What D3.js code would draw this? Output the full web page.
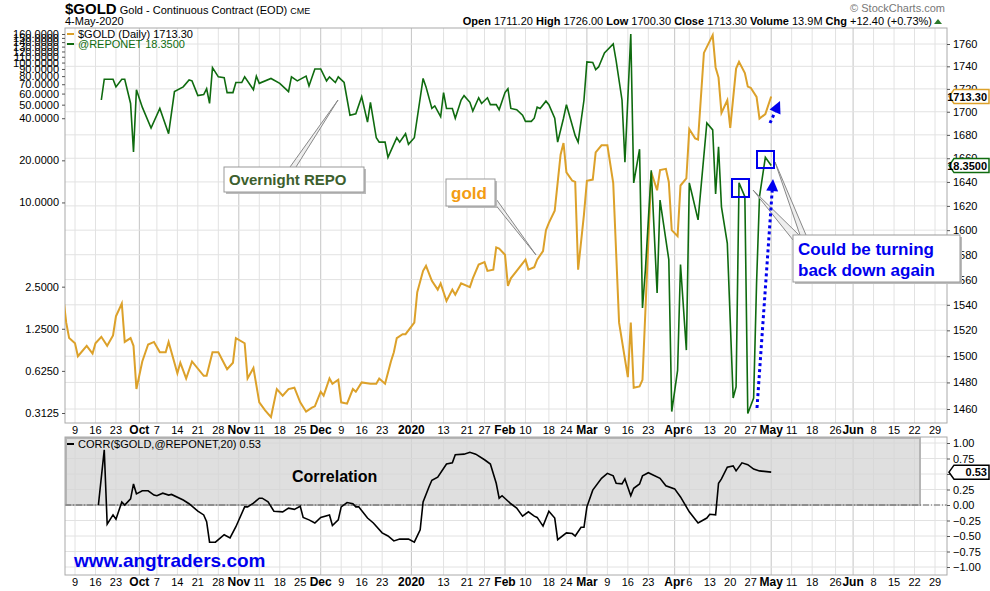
<!DOCTYPE html>
<html>
<head>
<meta charset="utf-8">
<script src="https://cdn.jsdelivr.net/npm/d3@7"></script>
<style>
  body { margin: 0; background: #fff; }
  text { font-family: "Liberation Sans", Arial, sans-serif; }
</style>
</head>
<body>
<div id="chart"></div>
<script>
// ---- data ----
const goldData = [
  ["2019-09-05",1546],["2019-09-06",1526],["2019-09-07",1514],["2019-09-09",1510],["2019-09-10",1500],
  ["2019-09-13",1508],["2019-09-15",1502],["2019-09-16",1510],["2019-09-18",1515],["2019-09-20",1508],
  ["2019-09-22",1516],["2019-09-23",1531],["2019-09-25",1541],["2019-09-26",1511],["2019-09-28",1514],
  ["2019-09-29",1508],["2019-09-30",1475],["2019-10-02",1496],["2019-10-04",1509],["2019-10-06",1511],
  ["2019-10-08",1503],["2019-10-10",1503],["2019-10-11",1511],["2019-10-14",1487],["2019-10-15",1495],
  ["2019-10-17",1483],["2019-10-19",1496],["2019-10-23",1485],["2019-10-24",1485],["2019-10-26",1503],
  ["2019-10-28",1503],["2019-10-31",1490],["2019-11-02",1495],["2019-11-03",1514],["2019-11-06",1510],
  ["2019-11-07",1483],["2019-11-09",1491],["2019-11-11",1465],["2019-11-13",1459],["2019-11-15",1454],
  ["2019-11-17",1475],["2019-11-19",1470],["2019-11-21",1475],["2019-11-23",1476],["2019-11-25",1465],
  ["2019-11-27",1458],["2019-11-29",1461],["2019-11-30",1462],["2019-12-02",1473],["2019-12-03",1470],
  ["2019-12-05",1483],["2019-12-06",1479],["2019-12-08",1482],["2019-12-09",1465],["2019-12-11",1464],
  ["2019-12-13",1475],["2019-12-14",1473],["2019-12-16",1480],["2019-12-19",1479],["2019-12-21",1479],
  ["2019-12-22",1483],["2019-12-24",1479],["2019-12-26",1496],["2019-12-27",1503],["2019-12-28",1514],
  ["2019-12-30",1517],["2019-12-31",1517],["2020-01-03",1526],["2020-01-04",1550],["2020-01-06",1567],
  ["2020-01-07",1571],["2020-01-09",1559],["2020-01-11",1552],["2020-01-12",1557],["2020-01-14",1543],
  ["2020-01-16",1552],["2020-01-17",1548],["2020-01-19",1557],["2020-01-22",1554],["2020-01-23",1561],
  ["2020-01-25",1572],["2020-01-27",1574],["2020-01-28",1567],["2020-01-30",1568],["2020-01-31",1586],
  ["2020-02-01",1585],["2020-02-03",1580],["2020-02-04",1555],["2020-02-05",1561],["2020-02-07",1567],
  ["2020-02-08",1570],["2020-02-10",1576],["2020-02-11",1568],["2020-02-13",1570],["2020-02-14",1576],
  ["2020-02-16",1583],["2020-02-17",1600],["2020-02-18",1606],["2020-02-20",1616],["2020-02-22",1663],
  ["2020-02-23",1673],["2020-02-24",1648],["2020-02-26",1641],["2020-02-27",1640],["2020-02-28",1568],
  ["2020-03-01",1613],["2020-03-02",1641],["2020-03-04",1642],["2020-03-05",1665],["2020-03-07",1671],
  ["2020-03-09",1671],["2020-03-11",1639],["2020-03-13",1526],["2020-03-16",1484],["2020-03-17",1526],
  ["2020-03-18",1476],["2020-03-20",1477],["2020-03-21",1482],["2020-03-24",1648],["2020-03-26",1633],
  ["2020-03-27",1650],["2020-03-29",1651],["2020-03-30",1640],["2020-03-31",1600],["2020-04-02",1595],
  ["2020-04-03",1637],["2020-04-05",1643],["2020-04-06",1685],["2020-04-08",1677],["2020-04-09",1676],
  ["2020-04-11",1752],["2020-04-14",1768],["2020-04-15",1739],["2020-04-16",1730],["2020-04-17",1699],
  ["2020-04-19",1710],["2020-04-20",1686],["2020-04-22",1738],["2020-04-23",1744],["2020-04-25",1734],
  ["2020-04-26",1722],["2020-04-27",1721],["2020-04-29",1713],["2020-04-30",1694],["2020-05-02",1698],
  ["2020-05-04",1713.3]
];

const repoData = [
  ["2019-09-18",54],["2019-09-19",76],["2019-09-22",76],["2019-09-23",67],["2019-09-25",76],
  ["2019-09-26",76],["2019-09-28",51],["2019-09-29",23],["2019-09-30",64],["2019-10-02",48],
  ["2019-10-05",34],["2019-10-08",47],["2019-10-11",31],["2019-10-13",62],["2019-10-16",67],
  ["2019-10-18",75],["2019-10-19",74],["2019-10-21",58],["2019-10-23",59],["2019-10-24",65],
  ["2019-10-25",51],["2019-10-26",92],["2019-10-28",79],["2019-10-30",78],["2019-10-31",61],
  ["2019-11-02",61],["2019-11-03",72],["2019-11-05",72],["2019-11-06",79],["2019-11-09",64],
  ["2019-11-10",80],["2019-11-11",71],["2019-11-15",77],["2019-11-18",71],["2019-11-21",62],
  ["2019-11-22",79],["2019-11-24",74],["2019-11-27",80],["2019-11-28",68],["2019-11-30",90],
  ["2019-12-02",90],["2019-12-04",74],["2019-12-05",79],["2019-12-07",72],["2019-12-08",79],
  ["2019-12-10",72],["2019-12-12",42],["2019-12-14",43],["2019-12-16",57],["2019-12-18",37.5],
  ["2019-12-19",52],["2019-12-21",29],["2019-12-22",27],["2019-12-24",27],["2019-12-25",21],
  ["2019-12-28",29],["2019-12-29",27],["2019-12-31",31],["2020-01-01",26],["2020-01-03",29],
  ["2020-01-06",77],["2020-01-07",67],["2020-01-09",47],["2020-01-10",49],["2020-01-12",41],
  ["2020-01-13",61],["2020-01-14",47],["2020-01-16",47],["2020-01-17",40],["2020-01-19",54],
  ["2020-01-20",58],["2020-01-22",52],["2020-01-23",45],["2020-01-25",56],["2020-01-26",51],
  ["2020-01-28",56],["2020-01-29",50],["2020-01-31",50],["2020-02-01",46],["2020-02-03",61],
  ["2020-02-04",65],["2020-02-05",47],["2020-02-07",46],["2020-02-09",42],["2020-02-10",38],
  ["2020-02-12",38],["2020-02-13",40],["2020-02-14",48],["2020-02-15",47],["2020-02-17",53],
  ["2020-02-18",50],["2020-02-20",40],["2020-02-21",27],["2020-02-23",40],["2020-02-24",50],
  ["2020-02-27",30],["2020-02-28",27],["2020-03-01",54],["2020-03-02",101],["2020-03-04",100],
  ["2020-03-05",89],["2020-03-06",93],["2020-03-08",117],["2020-03-11",136],["2020-03-12",103],
  ["2020-03-14",54],["2020-03-15",19.4],["2020-03-17",160],["2020-03-18",13.8],["2020-03-20",24],
  ["2020-03-21",1.76],["2020-03-22",3.3],["2020-03-24",17],["2020-03-26",2.25],["2020-03-27",10.4],
  ["2020-03-29",5.4],["2020-03-30",3.9],["2020-03-31",0.32],["2020-04-02",0.63],["2020-04-03",3.6],
  ["2020-04-05",0.88],["2020-04-06",13.8],["2020-04-07",11.3],["2020-04-09",7.5],["2020-04-12",37],
  ["2020-04-14",33],["2020-04-15",11.5],["2020-04-16",25],["2020-04-17",9.3],["2020-04-19",5.1],
  ["2020-04-21",0.4],["2020-04-22",0.48],["2020-04-23",13.8],["2020-04-25",11],["2020-04-26",0.31],
  ["2020-04-28",0.4],["2020-04-29",2.66],["2020-04-30",11],["2020-05-02",21],["2020-05-04",18.35]
];

const corrData = [
  ["2019-09-17",0],["2019-09-19",0.89],["2019-09-20",-0.31],["2019-09-22",-0.16],["2019-09-23",-0.23],
  ["2019-09-25",0.05],["2019-09-26",0],["2019-09-28",0.1],["2019-09-29",0.34],["2019-09-30",0.18],
  ["2019-10-02",0.23],["2019-10-04",0.23],["2019-10-06",0.16],["2019-10-07",0.15],["2019-10-09",0.19],
  ["2019-10-11",0.16],["2019-10-12",0.17],["2019-10-16",0.08],["2019-10-18",0.02],["2019-10-20",-0.06],
  ["2019-10-21",-0.1],["2019-10-23",-0.16],["2019-10-24",-0.27],["2019-10-25",-0.6],["2019-10-27",-0.6],
  ["2019-10-30",-0.48],["2019-11-01",-0.53],["2019-11-03",-0.35],["2019-11-06",-0.03],["2019-11-07",-0.03],
  ["2019-11-09",0.03],["2019-11-11",0.11],["2019-11-12",0.11],["2019-11-14",0.05],["2019-11-16",-0.1],
  ["2019-11-19",-0.11],["2019-11-21",-0.05],["2019-11-23",-0.07],["2019-11-25",-0.02],["2019-11-26",-0.2],
  ["2019-11-28",-0.24],["2019-11-30",-0.29],["2019-12-02",-0.2],["2019-12-05",-0.16],["2019-12-06",-0.33],
  ["2019-12-08",-0.24],["2019-12-09",-0.03],["2019-12-11",0.04],["2019-12-13",0.02],["2019-12-14",-0.03],
  ["2019-12-15",-0.03],["2019-12-18",-0.21],["2019-12-20",-0.29],["2019-12-23",-0.45],["2019-12-25",-0.5],
  ["2019-12-27",-0.58],["2019-12-29",-0.55],["2020-01-01",-0.55],["2020-01-03",-0.6],["2020-01-05",-0.4],
  ["2020-01-06",0.05],["2020-01-08",0.29],["2020-01-09",0.4],["2020-01-11",0.45],["2020-01-14",0.66],
  ["2020-01-16",0.68],["2020-01-17",0.81],["2020-01-20",0.82],["2020-01-22",0.85],["2020-01-24",0.82],
  ["2020-01-27",0.73],["2020-01-29",0.66],["2020-01-31",0.35],["2020-02-01",0.11],["2020-02-02",0.15],
  ["2020-02-05",0.02],["2020-02-07",-0.05],["2020-02-09",-0.18],["2020-02-11",-0.11],["2020-02-13",-0.18],
  ["2020-02-14",-0.2],["2020-02-16",-0.34],["2020-02-18",-0.1],["2020-02-20",-0.21],["2020-02-21",-0.56],
  ["2020-02-24",-0.45],["2020-02-26",-0.46],["2020-02-27",-0.5],["2020-02-29",-0.36],["2020-03-01",-0.36],
  ["2020-03-02",-0.03],["2020-03-04",0.24],["2020-03-07",0.43],["2020-03-09",0.51],["2020-03-11",0.47],
  ["2020-03-12",0.35],["2020-03-14",0.34],["2020-03-15",0.42],["2020-03-17",0.15],["2020-03-18",0.27],
  ["2020-03-20",0.34],["2020-03-21",0.47],["2020-03-23",0.52],["2020-03-27",0.43],["2020-03-29",0.31],
  ["2020-04-01",0.26],["2020-04-03",0.13],["2020-04-06",-0.11],["2020-04-09",-0.29],["2020-04-12",-0.21],
  ["2020-04-13",-0.15],["2020-04-15",-0.16],["2020-04-16",0.35],["2020-04-17",0.42],["2020-04-19",0.61],
  ["2020-04-21",0.63],["2020-04-22",0.55],["2020-04-24",0.68],["2020-04-26",0.65],["2020-04-28",0.58],
  ["2020-04-30",0.55],["2020-05-04",0.53]
];

const dateTicks = [
  ["2019-09-09","9"],["2019-09-16","16"],["2019-09-23","23"],["2019-10-01","Oct"],["2019-10-07","7"],
  ["2019-10-14","14"],["2019-10-21","21"],["2019-10-28","28"],["2019-11-04","Nov"],["2019-11-11","11"],
  ["2019-11-18","18"],["2019-11-25","25"],["2019-12-02","Dec"],["2019-12-09","9"],["2019-12-16","16"],
  ["2019-12-23","23"],["2020-01-02","2020"],["2020-01-13","13"],["2020-01-21","21"],["2020-01-27","27"],
  ["2020-02-03","Feb"],["2020-02-10","10"],["2020-02-18","18"],["2020-02-24","24"],["2020-03-02","Mar"],
  ["2020-03-09","9"],["2020-03-16","16"],["2020-03-23","23"],["2020-04-01","Apr"],["2020-04-06","6"],
  ["2020-04-13","13"],["2020-04-20","20"],["2020-04-27","27"],["2020-05-04","May"],["2020-05-11","11"],
  ["2020-05-18","18"],["2020-05-26","26"],["2020-06-01","Jun"],["2020-06-08","8"],["2020-06-15","15"],
  ["2020-06-22","22"],["2020-06-29","29"]
];
const goldTicks = d3.range(1460, 1761, 20);
const repoTicks = [0.3125, 0.625, 1.25, 2.5, 10, 20, 40, 50, 60, 70, 80, 90, 100, 110, 120, 130, 140, 150, 160];
const corrTicks = [1, 0.75, 0.5, 0.25, 0, -0.25, -0.5, -0.75, -1];

// ---- layout ----
const W = 990, H = 591;
const L = 65, R = 947;
const top1 = 28, bot1 = 423, top2 = 437, bot2 = 575;
const parse = d3.timeParse("%Y-%m-%d");

const x = d3.scaleTime().domain([parse("2019-09-09"), parse("2020-06-29")]).range([75, 935]);
const yGold = d3.scaleLog().domain([1460, 1760]).range([409, 44]);
const yRepo = d3.scaleLog().domain([0.3125, 160]).range([413, 34]);
const yCorr = d3.scaleLinear().domain([-1, 1]).range([567, 443]);

const svg = d3.select("#chart").append("svg").attr("width", W).attr("height", H);

svg.append("defs").append("clipPath").attr("id", "c1")
  .append("rect").attr("x", L).attr("y", top1).attr("width", R - L).attr("height", bot1 - top1);

// ---- header ----
const hdr = svg.append("text").attr("x", 65).attr("y", 14).attr("font-size", 11);
hdr.append("tspan").attr("font-weight", "bold").attr("font-size", 15).text("$GOLD");
hdr.append("tspan").text(" Gold - Continuous Contract (EOD) ");
hdr.append("tspan").attr("font-size", 9).text("CME");
svg.append("text").attr("x", 65).attr("y", 25).attr("font-size", 11).text("4-May-2020");
svg.append("text").attr("x", 945).attr("y", 12).attr("text-anchor", "end").attr("font-size", 11)
  .attr("fill", "#777").text("© StockCharts.com");
const stats = svg.append("text").attr("x", 932).attr("y", 25).attr("text-anchor", "end").attr("font-size", 11);
[["Open", "1711.20"], ["High", "1726.00"], ["Low", "1700.30"], ["Close", "1713.30"], ["Volume", "13.9M"], ["Chg", "+12.40 (+0.73%)"]]
  .forEach(([k, v], i) => {
    stats.append("tspan").attr("font-weight", "bold").text((i ? "  " : "") + k + " ");
    stats.append("tspan").text(v);
  });
svg.append("path").attr("d", "M934,24 L938,19 L942,24 Z").attr("fill", "#2a7a2a");

// ---- grids ----
function vgrid(y0, y1) {
  svg.append("g").selectAll("line").data(dateTicks).join("line")
    .attr("x1", d => x(parse(d[0]))).attr("x2", d => x(parse(d[0])))
    .attr("y1", y0).attr("y2", y1)
    .attr("stroke", d => isNaN(+d[1]) || d[1] === "2020" ? "#c4c4c4" : "#e2e2e2");
}
vgrid(top1, bot1);
vgrid(top2, bot2);
svg.append("g").selectAll("line").data(goldTicks).join("line")
  .attr("x1", L).attr("x2", R).attr("y1", d => yGold(d)).attr("y2", d => yGold(d)).attr("stroke", "#e2e2e2");
svg.append("g").selectAll("line").data(corrTicks).join("line")
  .attr("x1", L).attr("x2", R).attr("y1", d => yCorr(d)).attr("y2", d => yCorr(d)).attr("stroke", "#e2e2e2");

// correlation shaded band
svg.append("rect").attr("x", L + 1).attr("y", top2 + 1).attr("width", 920 - L - 1).attr("height", yCorr(0) - top2 - 1)
  .attr("fill", "#d4d4d4").attr("fill-opacity", 0.75).attr("stroke", "#b5b5b5").attr("stroke-width", 2);
svg.append("line").attr("x1", L).attr("x2", R).attr("y1", yCorr(0)).attr("y2", yCorr(0))
  .attr("stroke", "#666").attr("stroke-dasharray", "6,2,1,2");

// frames
svg.append("rect").attr("x", L).attr("y", top1).attr("width", R - L).attr("height", bot1 - top1)
  .attr("fill", "none").attr("stroke", "#aaa");
svg.append("rect").attr("x", L).attr("y", top2).attr("width", R - L).attr("height", bot2 - top2)
  .attr("fill", "none").attr("stroke", "#aaa");

// ---- axes ----
function dateLabels(y) {
  svg.append("g").selectAll("text").data(dateTicks).join("text")
    .attr("x", d => x(parse(d[0]))).attr("y", y).attr("text-anchor", "middle")
    .attr("font-size", d => isNaN(+d[1]) || d[1] === "2020" ? 12 : 11)
    .attr("font-weight", d => isNaN(+d[1]) || d[1] === "2020" ? "bold" : "normal")
    .text(d => d[1]);
}
dateLabels(434);
dateLabels(586);

const ga = svg.append("g").attr("transform", `translate(${R},0)`)
  .call(d3.axisRight(yGold).tickValues(goldTicks).tickSize(3).tickFormat(d3.format("d")));
const repoAx = svg.append("g").attr("transform", `translate(${L},0)`)
  .call(d3.axisLeft(yRepo).tickValues(repoTicks).tickSize(3).tickFormat(d3.format(".4f")));
const ca = svg.append("g").attr("transform", `translate(${R},0)`)
  .call(d3.axisRight(yCorr).tickValues(corrTicks).tickSize(3).tickFormat(d3.format(".2f")));
[ga, repoAx, ca].forEach(g => {
  g.select(".domain").remove();
  g.selectAll("text").attr("font-size", 11).attr("font-family", "Liberation Sans, Arial");
  g.selectAll("line").attr("stroke", "#555");
});

// ---- series ----
const lineOf = (y) => d3.line().x(d => x(parse(d[0]))).y(d => y(d[1]));
const plot = svg.append("g").attr("clip-path", "url(#c1)");
plot.append("path").datum(goldData).attr("d", lineOf(yGold))
  .attr("fill", "none").attr("stroke", "#dca12a").attr("stroke-width", 2);
plot.append("path").datum(repoData).attr("d", lineOf(yRepo))
  .attr("fill", "none").attr("stroke", "#0f6b0f").attr("stroke-width", 1.6);
svg.append("path").datum(corrData).attr("d", lineOf(yCorr))
  .attr("fill", "none").attr("stroke", "#000").attr("stroke-width", 1.6);

// legends
svg.append("rect").attr("x", 67).attr("y", 33).attr("width", 7).attr("height", 2).attr("fill", "#dca12a");
svg.append("text").attr("x", 78).attr("y", 38).attr("font-size", 11).attr("font-family", "DejaVu Sans Mono").text("$GOLD (Daily) 1713.30");
svg.append("rect").attr("x", 67).attr("y", 43).attr("width", 7).attr("height", 2).attr("fill", "#0f6b0f");
svg.append("text").attr("x", 78).attr("y", 48).attr("font-size", 11).attr("font-family", "DejaVu Sans Mono").attr("fill", "#0f6b0f").text("@REPONET 18.3500");
svg.append("rect").attr("x", 67).attr("y", 443).attr("width", 7).attr("height", 2).attr("fill", "#000");
svg.append("text").attr("x", 78).attr("y", 448).attr("font-size", 11).attr("font-family", "DejaVu Sans Mono").text("CORR($GOLD,@REPONET,20) 0.53");

// last value tags
function tag(y, label, color) {
  const g = svg.append("g");
  g.append("path").attr("d", `M949,${y} L954,${y - 7} L989,${y - 7} L989,${y + 7} L954,${y + 7} Z`)
    .attr("fill", "#fff").attr("stroke", color).attr("stroke-width", 1.5);
  g.append("text").attr("x", 987).attr("y", y + 4).attr("text-anchor", "end").attr("font-size", 11)
    .attr("font-weight", "bold").text(label);
}
tag(yGold(1713.3), "1713.30", "#dca12a");
tag(yRepo(18.35), "18.3500", "#0f6b0f");
tag(yCorr(0.53), "0.53", "#000");

// ---- annotations ----
function callout(bx, by, bw, bh, lines, color, size, pts) {
  const g = svg.append("g");
  pts.forEach(p => g.append("path").attr("d", `M${p[0]},${p[1]} L${p[2]},${p[3]} L${p[4]},${p[5]}`)
    .attr("fill", "#eee").attr("stroke", "#888").attr("stroke-width", 1));
  g.append("rect").attr("x", bx + 2).attr("y", by + 2).attr("width", bw).attr("height", bh).attr("fill", "#bbb");
  g.append("rect").attr("x", bx).attr("y", by).attr("width", bw).attr("height", bh).attr("fill", "#fff").attr("stroke", "#999");
  lines.forEach((t, i) => g.append("text").attr("x", bx + 5).attr("y", by + size + 3 + i * (size + 4))
    .attr("font-size", size).attr("font-weight", "bold").attr("fill", color).text(t));
}
callout(224, 167, 140, 25, ["Overnight REPO"], "#3d5f2e", 15, [[290, 167, 338, 100, 296, 167]]);
callout(446, 179, 49, 27, ["gold"], "#f39c12", 17, [[494, 196, 536, 255, 494, 203]]);
callout(793, 235, 167, 47, ["Could be turning", "back down again"], "#0000ee", 17,
  [[793, 240, 753, 190, 800, 236], [800, 235, 775, 162, 806, 235]]);

svg.append("rect").attr("x", 732).attr("y", 179).attr("width", 17).attr("height", 18)
  .attr("fill", "none").attr("stroke", "#0000ee").attr("stroke-width", 2);
svg.append("rect").attr("x", 757).attr("y", 151).attr("width", 17).attr("height", 17)
  .attr("fill", "none").attr("stroke", "#0000ee").attr("stroke-width", 2);

function arrow(x1, y1, x2, y2) {
  const a = Math.atan2(y2 - y1, x2 - x1), hl = 12, hw = 6;
  const bx = x2 - hl * Math.cos(a), by = y2 - hl * Math.sin(a);
  svg.append("line").attr("x1", x1).attr("y1", y1).attr("x2", bx).attr("y2", by)
    .attr("stroke", "#0000ee").attr("stroke-width", 3).attr("stroke-dasharray", "3,3");
  svg.append("path").attr("d", `M${x2},${y2} L${bx + hw * Math.sin(a)},${by - hw * Math.cos(a)} L${bx - hw * Math.sin(a)},${by + hw * Math.cos(a)} Z`)
    .attr("fill", "#0000ee");
}
arrow(757, 408, 773, 179);
arrow(770, 123, 780, 101);

svg.append("text").attr("x", 292).attr("y", 482).attr("font-size", 16).attr("font-weight", "bold").text("Correlation");
svg.append("text").attr("x", 74).attr("y", 567).attr("font-size", 19).attr("font-weight", "bold")
  .attr("fill", "#0000ee").text("www.angtraders.com");
</script>
</body>
</html>
